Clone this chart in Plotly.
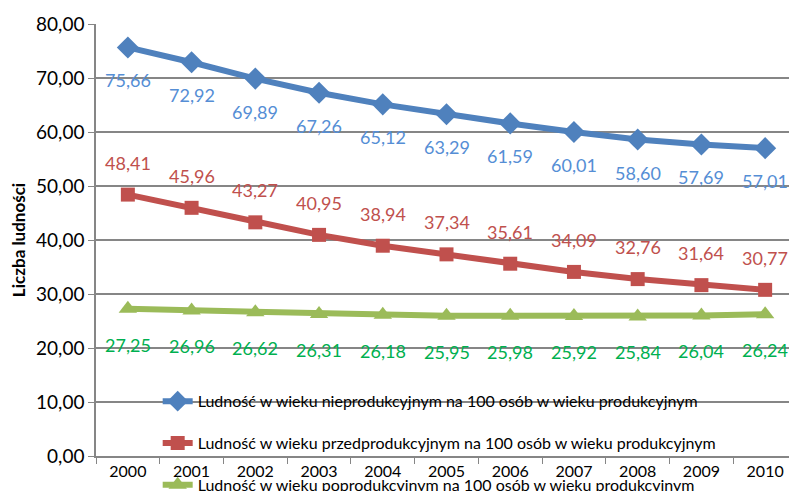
import plotly.graph_objects as go

years = [2000, 2001, 2002, 2003, 2004, 2005, 2006, 2007, 2008, 2009, 2010]
nieprod = [75.66, 72.92, 69.89, 67.26, 65.12, 63.29, 61.59, 60.01, 58.60, 57.69, 57.01]
przedprod = [48.41, 45.96, 43.27, 40.95, 38.94, 37.34, 35.61, 34.09, 32.76, 31.64, 30.77]
poprod = [27.25, 26.96, 26.62, 26.31, 26.18, 25.95, 25.98, 25.92, 25.84, 26.04, 26.24]

names = [
    "Ludność w wieku nieprodukcyjnym na 100 osób w wieku produkcyjnym",
    "Ludność w wieku przedprodukcyjnym na 100 osób w wieku produkcyjnym",
    "Ludność w wieku poprodukcyjnym na 100 osób w wieku produkcyjnym",
]

FONT = "Lato"

# values, name, line colour, marker, marker size, label colour, label offset (px)
series = [
    (nieprod, names[0], "#4F81BD", "diamond", 17, "#558ED5", -33),
    (przedprod, names[1], "#C0504D", "square", 14, "#C0504D", 32),
    (poprod, names[2], "#9BBB59", "triangle-up", 16, "#00B050", -36),
]

fig = go.Figure()
for i, (vals, name, color, symbol, msize, lblcolor, shift) in enumerate(series):
    fig.add_trace(go.Scatter(
        x=years, y=vals, name=name, mode="lines+markers",
        legendgroup=str(i),
        line=dict(color=color, width=6),
        marker=dict(symbol=symbol, size=msize, color=color),
    ))
    for yr, v in zip(years, vals):
        fig.add_annotation(
            x=yr, y=v, xref="x", yref="y",
            text=f"{v:.2f}".replace(".", ","), showarrow=False,
            yshift=shift, font=dict(family=FONT, size=18, color=lblcolor),
        )

# page body adds an 8px offset, so the figure is sized/margined to compensate
fig.update_layout(
    width=789, height=483,
    margin=dict(l=88, r=0, t=16, b=35, autoexpand=False),
    plot_bgcolor="white", paper_bgcolor="white",
    font=dict(family=FONT, color="black"),
    separators=", ",
    showlegend=True,
    legend=dict(
        x=0.088, y=0.166, xanchor="left", yanchor="top",
        bgcolor="rgba(0,0,0,0)", tracegroupgap=18,
        font=dict(family=FONT, size=16, color="black"),
    ),
)
fig.update_xaxes(
    range=[years[0] - 0.5, years[-1] + 0.5], dtick=1, tickformat="d",
    showline=True, linecolor="#868686", linewidth=1.5,
    ticks="", showgrid=False, zeroline=False,
    minor=dict(ticks="outside", tick0=years[0] - 0.5, dtick=1, ticklen=6,
               tickcolor="#868686", showgrid=False),
    tickfont=dict(family=FONT, size=16),
)
fig.update_yaxes(
    range=[0, 80], dtick=10, tickformat=".2f",
    showline=True, linecolor="#868686", linewidth=1.5,
    ticks="outside", ticklen=6, tickcolor="#868686",
    gridcolor="#868686", gridwidth=1.5, zeroline=False,
    tickfont=dict(family=FONT, size=19),
    title=dict(text="<b>Liczba ludności</b>", font=dict(family=FONT, size=17), standoff=26),
)

fig.write_html("out.html")
